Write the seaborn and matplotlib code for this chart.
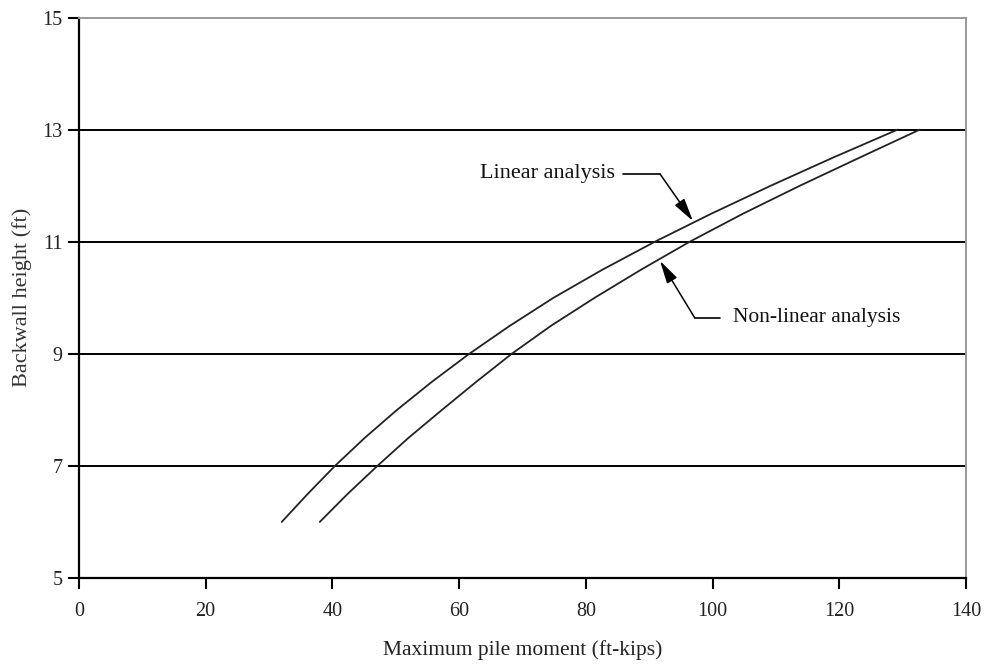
import matplotlib
matplotlib.use("Agg")
import matplotlib.pyplot as plt
import seaborn as sns
import pandas as pd

# Data
heights = [6.0, 6.5, 7.0, 7.5, 8.0, 8.5, 9.0, 9.5, 10.0, 10.5, 11.0, 11.5, 12.0, 12.5, 13.0]
linear_moment = [32.0, 36.1, 40.4, 45.1, 50.2, 55.7, 61.6, 68.0, 74.9, 82.6, 90.9, 99.8, 109.2, 119.0, 129.2]
nonlinear_moment = [38.0, 42.4, 47.1, 52.0, 57.3, 62.7, 68.3, 74.5, 81.4, 88.7, 96.4, 104.8, 113.8, 123.2, 132.7]
x_ticks = [0, 20, 40, 60, 80, 100, 120, 140]
y_ticks = [5, 7, 9, 11, 13, 15]
grid_levels = [7, 9, 11, 13]

df = pd.DataFrame({
    "moment": linear_moment + nonlinear_moment,
    "height": heights + heights,
    "analysis": ["Linear analysis"] * len(heights) + ["Non-linear analysis"] * len(heights),
})

sns.set_style("ticks")
plt.rcParams["font.family"] = ["Liberation Serif", "DejaVu Serif"]

fig = plt.figure(figsize=(9.87, 6.64), dpi=100)
ax = fig.add_axes([0.080, 0.1295, 0.8987, 0.8441])

for g in grid_levels:
    ax.axhline(g, color="black", lw=1.4, zorder=1)

sns.lineplot(data=df, x="moment", y="height", hue="analysis", units="analysis",
             estimator=None, sort=False, palette=["#222222", "#222222"],
             linewidth=1.3, legend=False, ax=ax, zorder=3)

ax.set_xlim(0, 140)
ax.set_ylim(5, 15)
ax.set_xticks(x_ticks)
ax.set_yticks(y_ticks)
ax.tick_params(axis="both", direction="out", length=8, width=1.5, color="black",
               labelsize=14.5, labelcolor="#222222")
ax.tick_params(axis="x", pad=9)
ax.tick_params(axis="y", pad=4)

for side in ["left", "bottom"]:
    ax.spines[side].set_color("black")
    ax.spines[side].set_linewidth(1.6)
for side in ["top", "right"]:
    ax.spines[side].set_visible(True)
    ax.spines[side].set_color("#999999")
    ax.spines[side].set_linewidth(1.4)

ax.set_xlabel("Maximum pile moment (ft-kips)", fontsize=15.5, color="#222222", labelpad=14)
ax.set_ylabel("Backwall height (ft)", fontsize=16, color="#333333", labelpad=7)

# Annotations
ax.text(84.6, 12.21, "Linear analysis", ha="right", va="center", fontsize=16, color="#111111")
ax.plot([85.9, 91.7], [12.21, 12.21], color="black", lw=1.2, zorder=4)
ax.annotate("", xy=(96.9, 11.37), xytext=(91.7, 12.21),
            arrowprops=dict(arrowstyle="-|>,head_length=1.0,head_width=0.25",
                            color="black", lw=1.1, shrinkA=0, shrinkB=0, mutation_scale=14))

ax.text(103.2, 9.64, "Non-linear analysis", ha="left", va="center", fontsize=15.5, color="#111111")
ax.plot([97.2, 101.2], [9.64, 9.64], color="black", lw=1.2, zorder=4)
ax.annotate("", xy=(91.7, 10.66), xytext=(97.2, 9.64),
            arrowprops=dict(arrowstyle="-|>,head_length=1.0,head_width=0.25",
                            color="black", lw=1.1, shrinkA=0, shrinkB=0, mutation_scale=14))

fig.savefig("out.png", dpi=100)
